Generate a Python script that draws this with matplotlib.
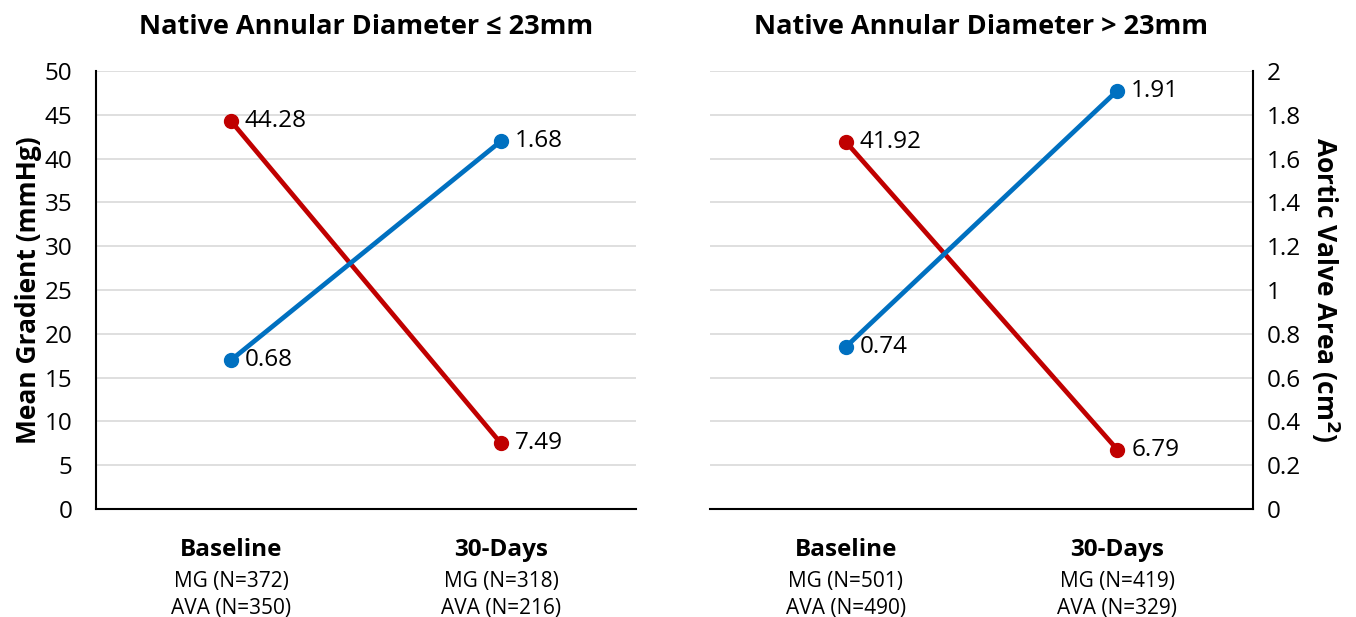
import matplotlib
matplotlib.use("Agg")
import matplotlib.pyplot as plt
import matplotlib.transforms as mtransforms

plt.rcParams['font.family'] = ['Open Sans', 'DejaVu Sans']

categories = ["Baseline", "30-Days"]
panel_titles = ["Native Annular Diameter \u2264 23mm", "Native Annular Diameter > 23mm"]
mg_small = [44.28, 7.49]
ava_small = [0.68, 1.68]
mg_large = [41.92, 6.79]
ava_large = [0.74, 1.91]
n_small = [("MG (N=372)", "AVA (N=350)"), ("MG (N=318)", "AVA (N=216)")]
n_large = [("MG (N=501)", "AVA (N=490)"), ("MG (N=419)", "AVA (N=329)")]
mg_ticks = [0, 5, 10, 15, 20, 25, 30, 35, 40, 45, 50]
ava_ticks = [0, 0.2, 0.4, 0.6, 0.8, 1, 1.2, 1.4, 1.6, 1.8, 2]
ava_ticklabels = ["0", "0.2", "0.4", "0.6", "0.8", "1", "1.2", "1.4", "1.6", "1.8", "2"]

RED = "#C00000"
BLUE = "#0070C0"
GRID = "#D9D9D9"
FS = 17.5

fig = plt.figure(figsize=(13.56, 6.17), dpi=100)
bottom, top = 1 - 509 / 617, 1 - 71 / 617
axL = fig.add_axes([96 / 1356, bottom, (636 - 96) / 1356, top - bottom])
axR = fig.add_axes([710 / 1356, bottom, (1253 - 710) / 1356, top - bottom])

x = list(range(len(categories)))


def setup_panel(ax, mg, ava, nlabels, title, left_axis):
    ax.set_xlim(-0.5, 1.5)
    ax.set_ylim(0, 50)
    ax.set_yticks(mg_ticks)
    ax.grid(axis='y', color=GRID, linewidth=1.2)
    ax.set_axisbelow(True)
    ax.set_xticks([])
    for s in ['top', 'right']:
        ax.spines[s].set_visible(False)
    ax.spines['bottom'].set_linewidth(1.5)
    if left_axis:
        ax.spines['left'].set_linewidth(1.5)
        ax.tick_params(axis='y', length=0, labelsize=FS, pad=17)
        ax.set_ylabel("Mean Gradient (mmHg)", fontsize=19, fontweight='bold', labelpad=2)
    else:
        ax.spines['left'].set_visible(False)
        ax.tick_params(axis='y', length=0, labelleft=False)

    ax2 = ax.twinx()
    ax2.set_ylim(0, 2)
    ax2.set_xlim(-0.5, 1.5)
    for s in ['top', 'left', 'bottom']:
        ax2.spines[s].set_visible(False)
    if left_axis:
        ax2.spines['right'].set_visible(False)
        ax2.set_yticks([])
    else:
        ax2.spines['right'].set_linewidth(1.5)
        ax2.set_yticks(ava_ticks)
        ax2.set_yticklabels(ava_ticklabels)
        ax2.tick_params(axis='y', length=0, labelsize=FS, pad=10)
        ax2.set_ylabel("Aortic Valve Area (cm$^{\\mathbf{2}}$)", fontsize=19, fontweight='bold',
                       rotation=-90, labelpad=30)

    ax.plot(x, mg, color=RED, linewidth=3.4, marker='o', markersize=10, zorder=3, clip_on=False)
    ax2.plot(x, ava, color=BLUE, linewidth=3.4, marker='o', markersize=10, zorder=3, clip_on=False)

    for xi, v in zip(x, mg):
        ax.annotate(f"{v:.2f}", (xi, v), xytext=(10, 0), textcoords='offset points',
                    va='center', ha='left', fontsize=FS)
    for xi, v in zip(x, ava):
        ax2.annotate(f"{v:.2f}", (xi, v), xytext=(10, 0), textcoords='offset points',
                     va='center', ha='left', fontsize=FS)

    trans = mtransforms.blended_transform_factory(ax.transData, ax.transAxes)
    for xi, cat, (l1, l2) in zip(x, categories, nlabels):
        ax.text(xi, -0.094, cat, transform=trans, ha='center', va='center',
                fontsize=17.5, fontweight='bold')
        ax.text(xi, -0.166, l1, transform=trans, ha='center', va='center', fontsize=15)
        ax.text(xi, -0.228, l2, transform=trans, ha='center', va='center', fontsize=15)

    ax.set_title(title, fontsize=19.5, fontweight='bold', pad=27)


setup_panel(axL, mg_small, ava_small, n_small, panel_titles[0], True)
setup_panel(axR, mg_large, ava_large, n_large, panel_titles[1], False)

fig.savefig("out.png", dpi=100)
